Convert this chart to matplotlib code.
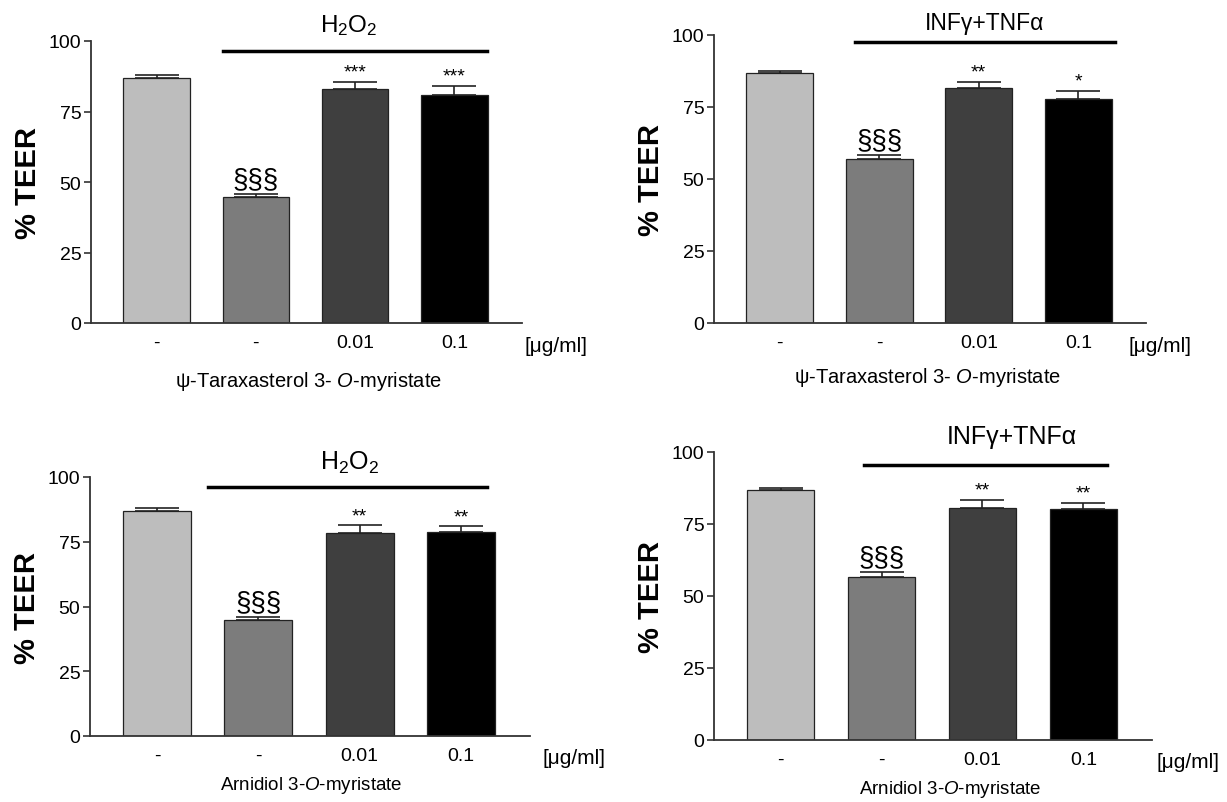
import matplotlib
matplotlib.use('Agg')
import matplotlib.pyplot as plt

plt.rcParams['font.family'] = ['Liberation Sans', 'DejaVu Sans']
plt.rcParams['mathtext.fontset'] = 'custom'
plt.rcParams['mathtext.rm'] = 'Liberation Sans'
plt.rcParams['mathtext.it'] = 'Liberation Sans:italic'

W, H = 1227, 803

# data
doses = ['-', '-', '0.01', '0.1']
bar_colors = ['#bdbdbd', '#7c7c7c', '#3f3f3f', '#000000']

teer_h2o2_tar = [86.8, 44.6, 82.9, 80.8]
err_h2o2_tar = [1.3, 1.3, 2.5, 3.4]
marks_h2o2_tar = ['', '§§§', '***', '***']

teer_cyt_tar = [86.7, 56.8, 81.6, 77.7]
err_cyt_tar = [0.8, 1.6, 2.2, 2.9]
marks_cyt_tar = ['', '§§§', '**', '*']

teer_h2o2_arn = [86.7, 44.6, 78.5, 78.8]
err_h2o2_arn = [1.4, 1.3, 2.8, 2.1]
marks_h2o2_arn = ['', '§§§', '**', '**']

teer_cyt_arn = [86.9, 56.7, 80.5, 80.3]
err_cyt_arn = [0.6, 1.5, 2.9, 2.1]
marks_cyt_arn = ['', '§§§', '**', '**']

tar_name = 'ψ-Taraxasterol 3- $\\mathit{O}$-myristate'
arn_name = 'Arnidiol 3-$\\mathit{O}$-myristate'

panels = [
    dict(v=teer_h2o2_tar, e=err_h2o2_tar, m=marks_h2o2_tar, t='H$_2$O$_2$', c=tar_name,
         box=(91, 42, 522, 324), line=(0.67, 3.33), ly=96.5, tp=(1.94, 106), ux=4.02,
         xl=(309, 382), tfs=17.5, lfs=14.5),
    dict(v=teer_cyt_tar, e=err_cyt_tar, m=marks_cyt_tar, t='INFγ+TNFα', c=tar_name,
         box=(714, 36, 1146, 324), line=(0.76, 3.37), ly=97.6, tp=(2.06, 104.5), ux=3.82,
         xl=(928, 378), tfs=16.5, lfs=14.5),
    dict(v=teer_h2o2_arn, e=err_h2o2_arn, m=marks_h2o2_arn, t='H$_2$O$_2$', c=arn_name,
         box=(90, 478, 530, 737), line=(0.5, 3.26), ly=96.3, tp=(1.9, 106), ux=4.11,
         xl=(311, 786), tfs=18, lfs=13.5),
    dict(v=teer_cyt_arn, e=err_cyt_arn, m=marks_cyt_arn, t='INFγ+TNFα', c=arn_name,
         box=(714, 453, 1152, 741), line=(0.83, 3.23), ly=95.4, tp=(2.29, 105.5), ux=4.04,
         xl=(950, 790), tfs=18, lfs=13.5),
]

fig = plt.figure(figsize=(W / 100, H / 100), dpi=100)

for p in panels:
    x0, y0, x1, y1 = p['box']
    ax = fig.add_axes([x0 / W, 1 - y1 / H, (x1 - x0) / W, (y1 - y0) / H])
    x = list(range(len(doses)))
    ax.bar(x, p['v'], width=0.67, color=bar_colors, edgecolor='#222222', linewidth=0.9, zorder=2)
    ax.errorbar(x, p['v'], yerr=[[0] * len(x), p['e']], fmt='none', ecolor='#222222',
                elinewidth=1.2, capsize=16, capthick=1.2, zorder=1)
    for xi, val, err, mk in zip(x, p['v'], p['e'], p['m']):
        if mk.startswith('§'):
            ax.text(xi, val + err + 0.6, mk, ha='center', va='bottom', fontsize=20)
        elif mk:
            ax.text(xi, val + err + 0.5, mk, ha='center', va='bottom', fontsize=14)

    ax.plot(p['line'], [p['ly'], p['ly']], color='black', lw=2.5, clip_on=False)
    ax.text(p['tp'][0], p['tp'][1], p['t'], ha='center', va='center',
            fontsize=p['tfs'], clip_on=False)

    ax.set_xlim(-0.66, 3.68)
    ax.set_ylim(0, 100)
    ax.set_yticks([0, 25, 50, 75, 100])
    ax.set_xticks(x, doses)
    ax.tick_params(axis='x', length=0, pad=8, labelsize=14)
    ax.tick_params(axis='y', length=5, width=1.2, color='#333333', pad=2, labelsize=14)
    for s in ['top', 'right']:
        ax.spines[s].set_visible(False)
    for s in ['left', 'bottom']:
        ax.spines[s].set_linewidth(1.3)
        ax.spines[s].set_color('#333333')

    ax.annotate('[μg/ml]', xy=(p['ux'], 0), xycoords=('data', 'axes fraction'),
                xytext=(0, -22), textcoords='offset pixels', ha='center', va='center',
                fontsize=15, annotation_clip=False)

    fig.text(x0 / W - 63 / W, 1 - (y0 + y1) / 2 / H, '% TEER', rotation=90,
             ha='center', va='center', fontsize=21, fontweight='bold')
    fig.text(p['xl'][0] / W, 1 - p['xl'][1] / H, p['c'], ha='center', va='center',
             fontsize=p['lfs'])

fig.savefig('out.png', dpi=100)
